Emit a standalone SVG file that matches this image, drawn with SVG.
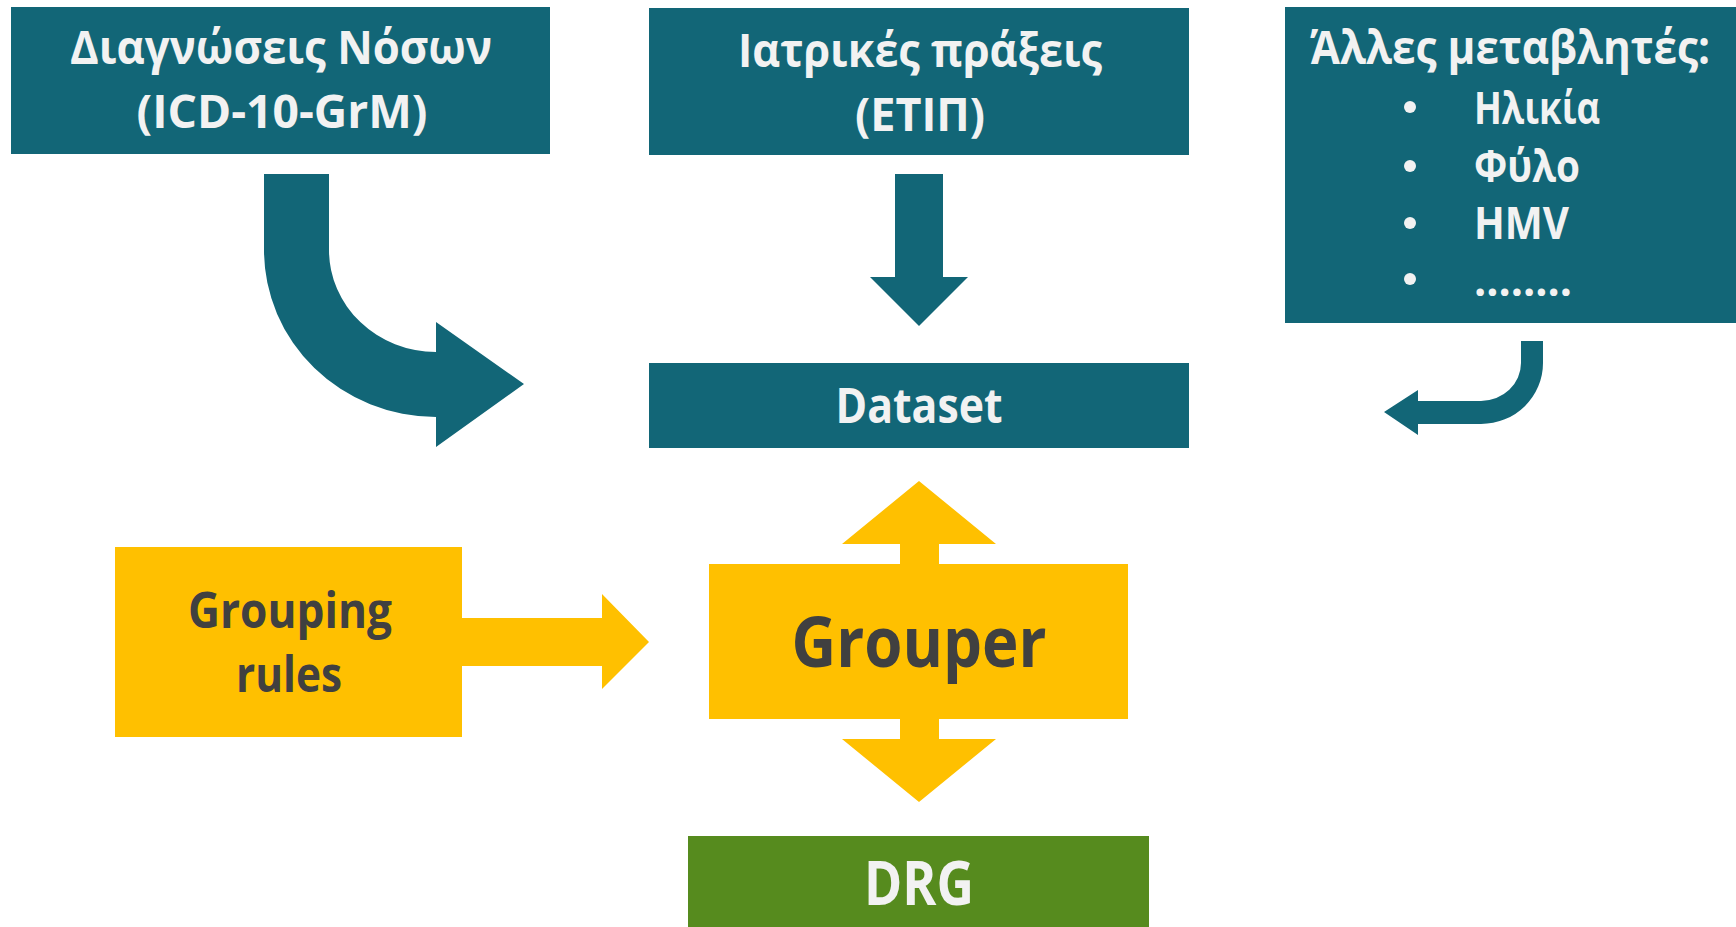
<svg xmlns="http://www.w3.org/2000/svg" width="1736" height="927" viewBox="0 0 1736 927">
<style>
.teal{fill:#126677}
.yel{fill:#FFC000}
.grn{fill:#568B1E}
.lt{fill:#F2F2F2;font-family:"Open Sans","Noto Sans","DejaVu Sans",sans-serif;font-weight:bold}
.dk{fill:#404040;font-family:"Open Sans","Noto Sans","DejaVu Sans",sans-serif;font-weight:bold}
</style>
<rect width="1736" height="927" fill="#FFFFFF"/>
<g id="connectors">
<path class="teal" d="M264,174 L329,174 L329,250 A107,102 0 0 0 436,352 L436,322 L524,384 L436,447 L436,417 A172,167 0 0 1 264,250 Z"/>
<polygon class="teal" points="895,174 943,174 943,277 968,277 919,326 870,277 895,277"/>
<path class="teal" d="M1521,341 L1543,341 L1543,363 A62,61 0 0 1 1481,424 L1418,424 L1418,435 L1384,412 L1418,390 L1418,401 L1481,401 A40,38 0 0 0 1521,363 Z"/>
<polygon class="yel" points="462,618 602,618 602,594 649,642 602,689 602,666 462,666"/>
<polygon class="yel" points="900,564 900,544 842,544 919,481 996,544 939,544 939,564"/>
<polygon class="yel" points="900,719 939,719 939,739 996,739 919,802 842,739 900,739"/>
</g>
<g id="diagnoses">
<rect class="teal" x="11" y="7" width="539" height="147"/>
<text class="lt" x="281" y="64" font-size="46" text-anchor="middle" textLength="422" lengthAdjust="spacingAndGlyphs">Διαγνώσεις Νόσων</text>
<text class="lt" x="282" y="128" font-size="46" text-anchor="middle" textLength="291" lengthAdjust="spacingAndGlyphs">(ICD-10-GrM)</text>
</g>
<g id="procedures">
<rect class="teal" x="649" y="8" width="540" height="147"/>
<text class="lt" x="920" y="67" font-size="46" text-anchor="middle" textLength="364" lengthAdjust="spacingAndGlyphs">Ιατρικές πράξεις</text>
<text class="lt" x="920" y="131" font-size="46" text-anchor="middle" textLength="130" lengthAdjust="spacingAndGlyphs">(ΕΤΙΠ)</text>
</g>
<g id="other-variables">
<rect class="teal" x="1285" y="7" width="451" height="316"/>
<text class="lt" x="1510" y="64" font-size="46" text-anchor="middle" textLength="400" lengthAdjust="spacingAndGlyphs">Άλλες μεταβλητές:</text>
<circle cx="1410" cy="107" r="6" fill="#F2F2F2"/>
<circle cx="1410" cy="166" r="6" fill="#F2F2F2"/>
<circle cx="1410" cy="223" r="6" fill="#F2F2F2"/>
<circle cx="1410" cy="279" r="6" fill="#F2F2F2"/>
<text class="lt" x="1474" y="124" font-size="45" textLength="126" lengthAdjust="spacingAndGlyphs">Ηλικία</text>
<text class="lt" x="1474" y="182" font-size="45" textLength="106" lengthAdjust="spacingAndGlyphs">Φύλο</text>
<text class="lt" x="1474" y="239" font-size="45" textLength="95" lengthAdjust="spacingAndGlyphs">HMV</text>
<text class="lt" x="1474" y="296" font-size="45" textLength="98" lengthAdjust="spacingAndGlyphs">........</text>
</g>
<g id="dataset">
<rect class="teal" x="649" y="363" width="540" height="85"/>
<text class="lt" x="919" y="423" font-size="48" text-anchor="middle" textLength="167" lengthAdjust="spacingAndGlyphs">Dataset</text>
</g>
<g id="grouping-rules">
<rect class="yel" x="115" y="547" width="347" height="190"/>
<text class="dk" x="290" y="628" font-size="50" text-anchor="middle" textLength="204" lengthAdjust="spacingAndGlyphs">Grouping</text>
<text class="dk" x="289" y="692" font-size="50" text-anchor="middle" textLength="106" lengthAdjust="spacingAndGlyphs">rules</text>
</g>
<g id="grouper">
<rect class="yel" x="709" y="564" width="419" height="155"/>
<text class="dk" x="919" y="667" font-size="70" text-anchor="middle" textLength="255" lengthAdjust="spacingAndGlyphs">Grouper</text>
</g>
<g id="drg">
<rect class="grn" x="688" y="836" width="461" height="91"/>
<text class="lt" x="919" y="905" font-size="60" text-anchor="middle" textLength="110" lengthAdjust="spacingAndGlyphs">DRG</text>
</g>
</svg>
